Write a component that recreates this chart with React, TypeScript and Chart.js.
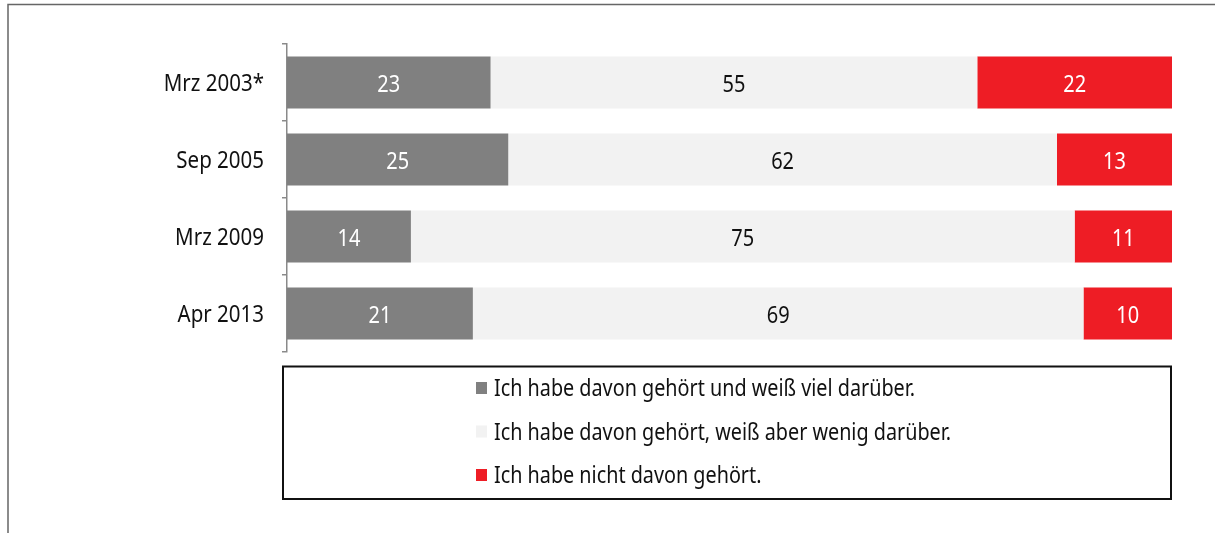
import React, { useEffect, useRef } from "react";
import { Chart, registerables } from "chart.js";

Chart.register(...registerables);

const categories = ["Mrz 2003*", "Sep 2005", "Mrz 2009", "Apr 2013"];
const seriesNames = [
  "Ich habe davon gehört und weiß viel darüber.",
  "Ich habe davon gehört, weiß aber wenig darüber.",
  "Ich habe nicht davon gehört.",
];
const knowMuch = [23, 25, 14, 21];
const knowLittle = [55, 62, 75, 69];
const notHeard = [22, 13, 11, 10];
const colors = ["#808080", "#f2f2f2", "#ee1d25"];
const labelColors = ["#ffffff", "#111111", "#ffffff"];

const FONT = "'Noto Sans', sans-serif";
const STRETCH = 1.15;

function tallText(ctx: CanvasRenderingContext2D, text: string, x: number, y: number) {
  ctx.save();
  ctx.translate(x, y);
  ctx.scale(1, STRETCH);
  ctx.fillText(text, 0, 0);
  ctx.restore();
}

const framePlugin = {
  id: "frame",
  beforeDraw(chart: any) {
    const ctx = chart.ctx;
    ctx.save();
    ctx.strokeStyle = "#666666";
    ctx.lineWidth = 1.5;
    ctx.beginPath();
    ctx.moveTo(8, chart.height);
    ctx.lineTo(8, 4.5);
    ctx.lineTo(chart.width, 4.5);
    ctx.stroke();
    ctx.restore();
  },
};

const categoryLabelPlugin = {
  id: "categoryLabels",
  afterDraw(chart: any) {
    const ctx = chart.ctx;
    const scale = chart.scales.y;
    ctx.save();
    ctx.font = `20.5px ${FONT}`;
    ctx.textAlign = "right";
    ctx.textBaseline = "alphabetic";
    ctx.fillStyle = "#111111";
    scale.ticks.forEach((t: any, i: number) => {
      const y = scale.getPixelForTick(i);
      tallText(ctx, String(t.label), scale.right - 23, y + 8);
    });
    ctx.restore();
  },
};

const valueLabelPlugin = {
  id: "valueLabels",
  afterDatasetsDraw(chart: any) {
    const ctx = chart.ctx;
    ctx.save();
    ctx.font = `20px ${FONT}`;
    ctx.textAlign = "center";
    ctx.textBaseline = "alphabetic";
    chart.data.datasets.forEach((ds: any, i: number) => {
      const meta = chart.getDatasetMeta(i);
      meta.data.forEach((bar: any, j: number) => {
        const cx = (bar.x + bar.base) / 2;
        ctx.fillStyle = labelColors[i];
        tallText(ctx, String(ds.data[j]), cx, bar.y + 9.2);
      });
    });
    ctx.restore();
  },
};

const boxLegendPlugin = {
  id: "boxLegend",
  afterDraw(chart: any) {
    const ctx = chart.ctx;
    ctx.save();
    ctx.strokeStyle = "#111111";
    ctx.lineWidth = 2;
    ctx.strokeRect(283, 366.5, 888, 132.5);
    ctx.font = `19.8px ${FONT}`;
    ctx.textAlign = "left";
    ctx.textBaseline = "alphabetic";
    const baselines = [396, 439.5, 483];
    chart.data.datasets.forEach((ds: any, i: number) => {
      ctx.fillStyle = ds.backgroundColor;
      ctx.fillRect(476, baselines[i] - 14, 11, 12);
      ctx.fillStyle = "#111111";
      tallText(ctx, ds.label, 494, baselines[i]);
    });
    ctx.restore();
  },
};

export default function App() {
  const ref = useRef<HTMLCanvasElement>(null);
  useEffect(() => {
    document.body.style.margin = "0";
    const values = [knowMuch, knowLittle, notHeard];
    const chart = new Chart(ref.current!, {
      type: "bar",
      data: {
        labels: categories,
        datasets: values.map((v, i) => ({
          label: seriesNames[i],
          data: v,
          backgroundColor: colors[i],
          borderWidth: 0,
          categoryPercentage: 1,
          barPercentage: 0.675,
        })),
      },
      options: {
        indexAxis: "y",
        animation: false,
        responsive: false,
        maintainAspectRatio: false,
        layout: { padding: { left: 0, top: 44, right: 43, bottom: 181 } },
        plugins: { legend: { display: false }, tooltip: { enabled: false } },
        scales: {
          x: { stacked: true, min: 0, max: 100, display: false },
          y: {
            stacked: true,
            afterFit: (s: any) => {
              s.width = 287;
            },
            grid: {
              drawOnChartArea: false,
              offset: true,
              tickLength: 5,
              color: "#8a8a8a",
              lineWidth: 1.5,
            },
            border: { display: true, color: "#8a8a8a", width: 1.5 },
            ticks: { display: false },
          },
        },
      },
      plugins: [framePlugin, valueLabelPlugin, categoryLabelPlugin, boxLegendPlugin],
    });
    return () => chart.destroy();
  }, []);
  return <canvas ref={ref} width={1215} height={533} style={{ display: "block" }} />;
}
